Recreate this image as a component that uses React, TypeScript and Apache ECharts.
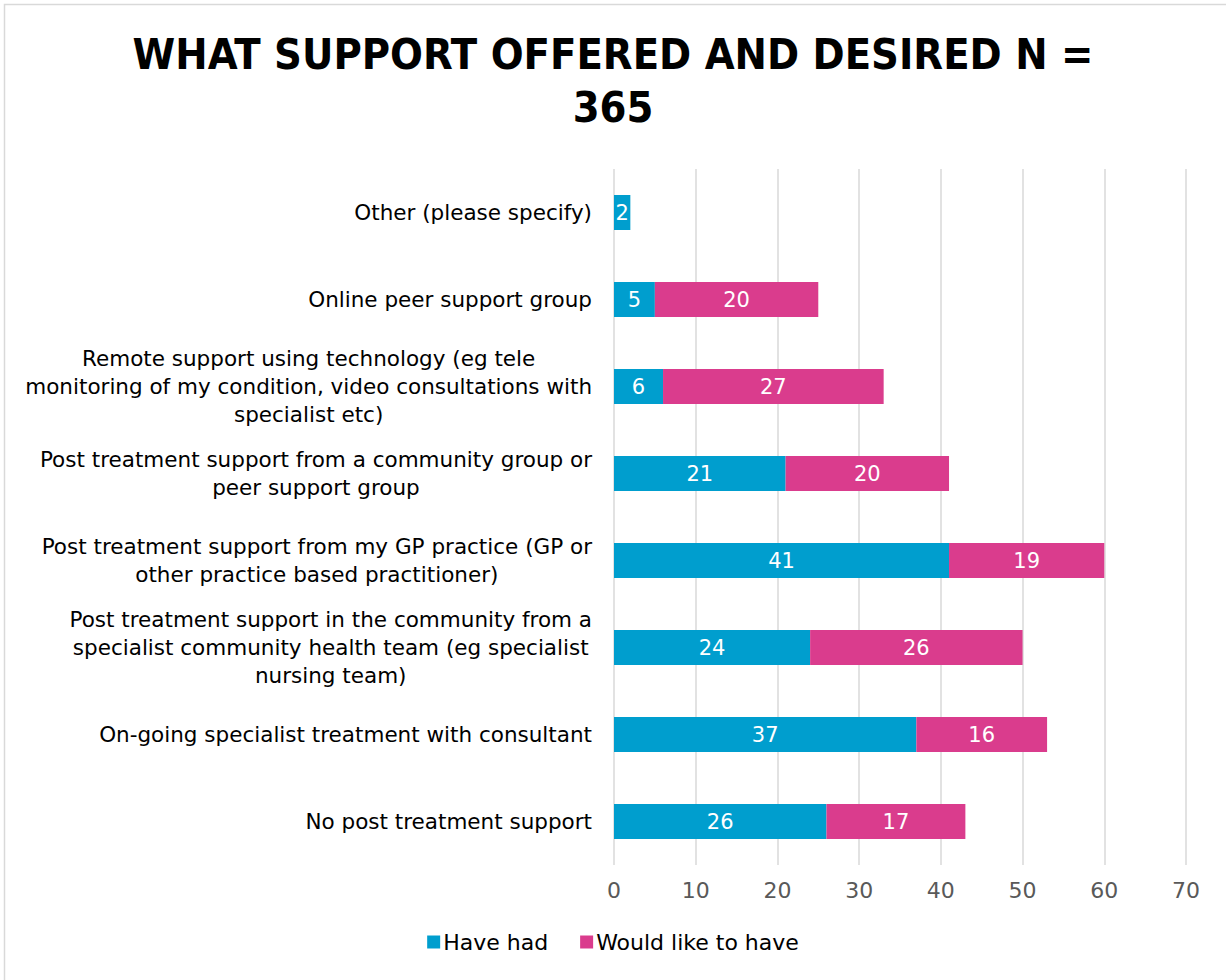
import React, { useEffect, useRef } from "react";
import * as echarts from "echarts";

const categories = [
  "No post treatment support",
  "On-going specialist treatment with consultant",
  "Post treatment support in the community from a\nspecialist community health team (eg specialist\nnursing team)",
  "Post treatment support from my GP practice (GP or\nother practice based practitioner)",
  "Post treatment support from a community group or\npeer support group",
  "Remote support using technology (eg tele\nmonitoring of my condition, video consultations with\nspecialist etc)",
  "Online peer support group",
  "Other (please specify)",
];
const haveHad = [26, 37, 24, 41, 21, 6, 5, 2];
const wouldLike: (number | null)[] = [17, 16, 26, 19, 20, 27, 20, null];
const xTicks = [0, 10, 20, 30, 40, 50, 60, 70];

const FONT = "'DejaVu Sans', sans-serif";
const TITLE_FONT = "'DejaVu Sans Condensed', 'DejaVu Sans', sans-serif";
const BLUE = "#009ECE";
const PINK = "#DA3C8D";

export default function App() {
  const ref = useRef<HTMLDivElement>(null);
  useEffect(() => {
    document.body.style.margin = "0";
    const chart = echarts.init(ref.current!, null, { renderer: "svg" });
    chart.setOption({
      animation: false,
      backgroundColor: "#fff",
      textStyle: { fontFamily: FONT },
      title: {
        text: "WHAT SUPPORT OFFERED AND DESIRED N =\n365",
        left: "center",
        top: 22,
        textStyle: {
          fontFamily: TITLE_FONT,
          fontWeight: "bold",
          fontSize: 43,
          lineHeight: 53,
          color: "#000",
        },
      },
      graphic: [
        {
          type: "rect",
          shape: { x: 4.5, y: 4.5, width: 1300, height: 1100 },
          style: { fill: "none", stroke: "#d9d9d9", lineWidth: 1.5 },
          silent: true,
        },
      ],
      legend: {
        bottom: 22,
        left: "center",
        itemWidth: 13,
        itemHeight: 13,
        itemGap: 32,
        icon: "rect",
        textStyle: { fontFamily: FONT, fontSize: 22, color: "#000", padding: [0, 0, 0, -2] },
        data: ["Have had", "Would like to have"],
      },
      grid: { left: 614, right: 40, top: 169, bottom: 115, containLabel: false },
      xAxis: {
        type: "value",
        min: 0,
        max: 70,
        interval: 10,
        axisLine: { show: false },
        axisTick: { show: false },
        axisLabel: {
          fontFamily: FONT,
          fontSize: 22,
          color: "#595959",
          margin: 14,
          formatter: (v: number) => (xTicks.includes(v) ? String(v) : ""),
        },
        splitLine: { show: true, lineStyle: { color: "#d9d9d9", width: 1.5 } },
      },
      yAxis: {
        type: "category",
        data: categories,
        axisLine: { show: false },
        axisTick: { show: false },
        axisLabel: {
          align: "right",
          margin: 22,
          formatter: (v: string) =>
            v
              .split("\n")
              .map((l) => "{c|" + l + "}")
              .join("\n"),
          rich: {
            c: {
              align: "center",
              fontFamily: FONT,
              fontSize: 21.5,
              lineHeight: 28,
              color: "#000",
            },
          },
        },
      },
      series: [
        {
          name: "Have had",
          type: "bar",
          stack: "s",
          barWidth: 35,
          data: haveHad,
          itemStyle: { color: BLUE },
          label: {
            show: true,
            position: "inside",
            color: "#fff",
            fontFamily: FONT,
            fontSize: 21,
          },
        },
        {
          name: "Would like to have",
          type: "bar",
          stack: "s",
          barWidth: 35,
          data: wouldLike,
          itemStyle: { color: PINK },
          label: {
            show: true,
            position: "inside",
            color: "#fff",
            fontFamily: FONT,
            fontSize: 21,
          },
        },
      ],
    });
    return () => chart.dispose();
  }, []);
  return <div ref={ref} style={{ width: 1226, height: 980 }} />;
}
